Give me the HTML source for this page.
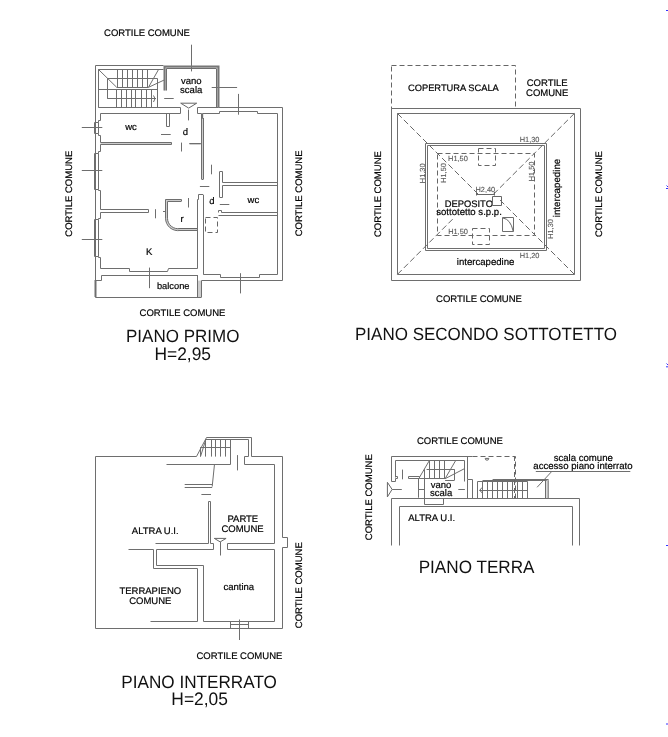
<!DOCTYPE html>
<html><head><meta charset="utf-8"><style>
html,body{margin:0;padding:0;background:#fff;width:668px;height:737px;overflow:hidden}
svg{display:block;position:absolute;left:0;top:0}
#main{filter:grayscale(1)}
line,polyline,polygon,path,rect{fill:none;stroke:#6e6e6e;stroke-width:1}
.thick{stroke:#777;stroke-width:2}
.thin{stroke:#666;stroke-width:1}
.gray{stroke:#bbb;stroke-width:2}
.w2{stroke-width:2}
.fill{fill:#cdcdcd;stroke:none}
.gray1{stroke:#bbb;stroke-width:1}
.dash{stroke:#666;stroke-dasharray:5 3}
.dashd{stroke:#666;stroke-dasharray:6 3}
.blue{stroke:#33f;stroke-width:1}
text{font-family:"Liberation Sans",sans-serif;fill:#000;stroke:#000;stroke-width:0.2;opacity:0.999;text-rendering:geometricPrecision}
.ts{fill:#555;stroke:#555;stroke-width:0.1}
.big{stroke:none;fill:#111}
</style></head><body>
<svg id="main" width="668" height="737" viewBox="0 0 668 737">
<polygon points="197.6,280.6 201.2,280.6 201.2,297.2 197.6,297.2" class="fill"/>
<polygon points="216,66 218.5,66 218.5,107.5 216,107.5" class="fill"/>
<polygon points="164.5,66 166.5,66 166.5,90.5 164.5,90.5" class="fill"/>
<polygon points="164.5,66 218.5,66 218.5,68.5 164.5,68.5" class="fill"/>
<polygon points="165.5,218.3 167.5,218.3 168.1,222.2 169.6,224.8 172,227 174.5,228.2 177,228.5 197.5,228.5 197.5,230.5 177,230.5 173.5,230 170.3,228.3 167.8,225.8 166.2,222.5" class="fill"/>
<polygon points="165.5,199.5 167.5,199.5 167.5,218.5 165.5,218.5" class="fill"/>
<polygon points="165.5,199.5 181.5,199.5 181.5,201.5 165.5,201.5" class="fill"/>
<polygon points="189.5,143 200.8,143 200.8,145 189.5,145" class="fill"/>
<polygon points="201.5,113.5 203.5,113.5 203.5,179.5 201.5,179.5" class="fill"/>
<polygon points="100.5,142.5 171.5,142.5 171.5,144.5 100.5,144.5" class="fill"/>
<text font-size="9.5" text-anchor="middle" transform="translate(147 36.3)" class="t">CORTILE COMUNE</text>
<text font-size="9.5" text-anchor="middle" transform="translate(72.1 193.7) rotate(-90)" class="t">CORTILE COMUNE</text>
<text font-size="9.5" text-anchor="middle" transform="translate(301.6 193.4) rotate(-90)" class="t">CORTILE COMUNE</text>
<text font-size="9.5" text-anchor="middle" transform="translate(182.5 315.7)" class="t">CORTILE COMUNE</text>
<text font-size="17" text-anchor="middle" transform="translate(182.7 342.1) scale(1 1.04)" class="big">PIANO PRIMO</text>
<text font-size="17.4" text-anchor="middle" transform="translate(182.7 359.7) scale(1 1.04)" class="big">H=2,95</text>
<line x1="191.5" y1="44.7" x2="191.5" y2="71.4"/>
<line x1="81.8" y1="127.5" x2="102.3" y2="127.5"/>
<line x1="81.8" y1="170.5" x2="102.3" y2="170.5"/>
<line x1="81.8" y1="239.5" x2="102.3" y2="239.5"/>
<line x1="211.7" y1="87.5" x2="237.1" y2="87.5"/>
<line x1="238.5" y1="93.9" x2="238.5" y2="114.7"/>
<line x1="149.5" y1="267.6" x2="149.5" y2="288.2"/>
<line x1="240.5" y1="273.2" x2="240.5" y2="293.4"/>
<polyline points="95.5,297.5 95.5,65.5 163.5,65.5"/>
<line x1="98.5" y1="69.4" x2="98.5" y2="107.7"/>
<line x1="98.4" y1="69.5" x2="163.5" y2="69.5"/>
<polyline points="98.5,107.5 180.5,107.5 180.5,113.5"/>
<line x1="98.4" y1="89.5" x2="157" y2="89.5"/>
<polyline points="107.5,98.5 107.5,78.5 157.5,78.5 157.5,107.5"/>
<line x1="107.2" y1="98.5" x2="156" y2="98.5"/>
<line x1="116.7" y1="87.5" x2="148.5" y2="87.5"/>
<line x1="98.4" y1="69.4" x2="116.7" y2="87.3"/>
<line x1="158.6" y1="69.4" x2="148.5" y2="87.3"/>
<line x1="148.5" y1="87.3" x2="164" y2="80.1"/>
<line x1="117.5" y1="69.4" x2="117.5" y2="87.3"/>
<line x1="122.5" y1="69.4" x2="122.5" y2="87.3"/>
<line x1="127.5" y1="69.4" x2="127.5" y2="87.3"/>
<line x1="132.5" y1="69.4" x2="132.5" y2="87.3"/>
<line x1="137.5" y1="69.4" x2="137.5" y2="87.3"/>
<line x1="142.5" y1="69.4" x2="142.5" y2="87.3"/>
<line x1="147.5" y1="69.4" x2="147.5" y2="87.3"/>
<line x1="116.5" y1="89.7" x2="116.5" y2="107.7"/>
<line x1="121.5" y1="89.7" x2="121.5" y2="107.7"/>
<line x1="126.5" y1="89.7" x2="126.5" y2="107.7"/>
<line x1="131.5" y1="89.7" x2="131.5" y2="107.7"/>
<line x1="135.5" y1="89.7" x2="135.5" y2="107.7"/>
<line x1="141.5" y1="89.7" x2="141.5" y2="107.7"/>
<line x1="146.5" y1="89.7" x2="146.5" y2="107.7"/>
<line x1="151.5" y1="89.7" x2="151.5" y2="107.7"/>
<path d="M153.5,95.5 Q156.5,98.7 153.5,102" class="thin"/>
<polyline points="164.5,90.5 164.5,66.5 218.5,66.5 218.5,107.5" class="thick"/>
<line x1="166.5" y1="68.5" x2="216" y2="68.5"/>
<line x1="166.5" y1="68.5" x2="166.5" y2="90.5"/>
<line x1="216.5" y1="68.5" x2="216.5" y2="107.5"/>
<line x1="164.2" y1="98.5" x2="173.7" y2="98.5"/>
<polygon points="180.7,103.2 196.7,103.2 188.7,108.1" class="thin"/>
<text font-size="9.5" text-anchor="middle" transform="translate(191.2 84.2)" class="t">vano</text>
<text font-size="9.5" text-anchor="middle" transform="translate(191.2 93.1)" class="t">scala</text>
<line x1="188.5" y1="109.6" x2="188.5" y2="120.4"/>
<polyline points="197.5,107.5 218.5,107.5"/>
<polyline points="197.5,107.5 197.5,113.5 201.5,113.5 201.5,118.5 202.5,118.5 202.5,113.5 219.5,113.5 219.5,111.5 257.5,111.5 257.5,113.5"/>
<line x1="201.5" y1="118" x2="201.5" y2="179"/>
<line x1="203.5" y1="118" x2="203.5" y2="179"/>
<polyline points="201.5,179.5 203.5,179.5"/>
<line x1="211.5" y1="164.7" x2="211.5" y2="174.3"/>
<line x1="199.9" y1="186.5" x2="209.3" y2="186.5"/>
<polyline points="100.5,113.5 180.5,113.5"/>
<polygon points="94.5,122.5 98.5,122.5 98.5,133.5 94.5,133.5"/>
<polygon points="94.5,153.5 98.5,153.5 98.5,189.5 94.5,189.5"/>
<polygon points="94.5,219.5 98.5,219.5 98.5,256.5 94.5,256.5"/>
<polyline points="100.5,113.5 100.5,120.5 98.5,120.5 98.5,122.5"/>
<polyline points="98.5,133.5 98.5,135.5 100.5,135.5 100.5,142.5"/>
<polyline points="100.5,144.5 100.5,151.5 98.5,151.5 98.5,153.5"/>
<polyline points="98.5,189.5 98.5,190.5 100.5,190.5 100.5,209.5"/>
<polyline points="100.5,212.5 100.5,218.5 98.5,218.5 98.5,219.5"/>
<polyline points="98.5,256.5 98.5,257.5 100.5,257.5 100.5,268.5"/>
<polyline points="166.5,113.5 166.5,126.5 169.5,126.5 169.5,113.5"/>
<line x1="161" y1="134.5" x2="170.7" y2="134.5"/>
<text font-size="9.5" text-anchor="middle" transform="translate(131 130.3)" class="t">wc</text>
<text font-size="9.5" text-anchor="middle" transform="translate(185.3 135.3)" class="t">d</text>
<polyline points="100.5,142.5 171.5,142.5 171.5,144.5 100.5,144.5"/>
<line x1="181.5" y1="142.6" x2="181.5" y2="151.5"/>
<line x1="189.3" y1="143.5" x2="200.8" y2="143.5"/>
<polyline points="100.5,209.5 148.5,209.5 148.5,212.5 100.5,212.5"/>
<line x1="155.5" y1="209.2" x2="155.5" y2="218.3"/>
<polyline points="100.5,268.5 129.5,268.5 129.5,271.5 167.5,271.5 168.5,268.5 197.5,268.5"/>
<polyline points="101.5,280.5 101.5,275.5 197.5,275.5"/>
<polyline points="94.5,280.5 101.5,280.5"/>
<line x1="95.5" y1="281" x2="95.5" y2="297" class="w2"/>
<polyline points="95.5,297.5 201.5,297.5"/>
<line x1="197.5" y1="275" x2="197.5" y2="297.2"/>
<line x1="201.5" y1="280.6" x2="201.5" y2="297.2"/>
<text font-size="9.3" text-anchor="middle" transform="translate(173.2 289.1)" class="t">balcone</text>
<text font-size="9.5" text-anchor="middle" transform="translate(149.1 255.1)" class="t">K</text>
<polyline points="181.5,199.5 165.5,199.5 165.5,218.5"/>
<path d="M165.5,218.3 A12.5,12.5 0 0 0 180,230.5 L197.5,230.5"/>
<path d="M167.5,218.3 A10.5,10.5 0 0 0 180,228.5 L197.5,228.5" class="thin"/>
<line x1="181.5" y1="199.6" x2="181.5" y2="201.5"/>
<line x1="167.5" y1="201.5" x2="181" y2="201.5"/>
<line x1="167.5" y1="201.5" x2="167.5" y2="218.3"/>
<line x1="188.5" y1="198" x2="188.5" y2="207.5"/>
<line x1="163" y1="211.5" x2="166" y2="211.5"/>
<text font-size="9.5" text-anchor="middle" transform="translate(182.2 221.8)" class="t">r</text>
<polyline points="201.5,194.5 198.5,194.5 198.5,199.5 197.5,199.5 197.5,268.5"/>
<line x1="203.5" y1="194.7" x2="203.5" y2="274.7"/>
<line x1="201" y1="194.5" x2="203" y2="194.5"/>
<polyline points="203.5,274.5 220.5,274.5 220.5,277.5 259.5,277.5 259.5,274.5 277.5,274.5 277.5,113.5 257.5,113.5"/>
<polyline points="201.5,280.5 282.5,280.5 282.5,107.5 218.5,107.5"/>
<polygon points="205.5,217.5 217.5,217.5 217.5,232.5 205.5,232.5" class="dash"/>
<polyline points="219.5,171.5 222.5,171.5 222.5,182.5 277.5,182.5"/>
<line x1="219.5" y1="171.7" x2="219.5" y2="197.2"/>
<polyline points="219.5,197.5 222.5,197.5 222.5,185.5 277.5,185.5"/>
<line x1="219.8" y1="204.5" x2="229.3" y2="204.5"/>
<polyline points="218.5,212.5 218.5,210.5 221.5,210.5 221.5,212.5 277.5,212.5"/>
<polyline points="218.5,215.5 277.5,215.5"/>
<text font-size="9.5" text-anchor="middle" transform="translate(253.4 202.5)" class="t">wc</text>
<text font-size="9.5" text-anchor="middle" transform="translate(211.9 204.3)" class="t">d</text>
<polygon points="391.5,65.5 515.5,65.5 515.5,108.5 391.5,108.5" class="dash"/>
<text font-size="9.3" text-anchor="middle" transform="translate(453.4 91)" class="t">COPERTURA SCALA</text>
<text font-size="9.5" text-anchor="middle" transform="translate(547.2 85.5)" class="t">CORTILE</text>
<text font-size="9.5" text-anchor="middle" transform="translate(547.2 96.3)" class="t">COMUNE</text>
<polygon points="391.5,108.5 580.5,108.5 580.5,280.5 391.5,280.5"/>
<polygon points="397.5,113.5 574.5,113.5 574.5,274.5 397.5,274.5"/>
<polygon points="425.5,143.5 546.5,143.5 546.5,250.5 425.5,250.5"/>
<polygon points="427.5,145.5 544.5,145.5 544.5,248.5 427.5,248.5"/>
<polygon points="437.5,153.5 534.5,153.5 534.5,235.5 437.5,235.5" class="dash"/>
<polygon points="478.5,148.5 495.5,148.5 495.5,165.5 478.5,165.5" class="dash"/>
<polygon points="472.5,228.5 489.5,228.5 489.5,244.5 472.5,244.5" class="dash"/>
<line x1="397.5" y1="113.5" x2="478" y2="194" class="dashd"/>
<line x1="574.3" y1="113.5" x2="493.7" y2="194" class="dashd"/>
<line x1="574.3" y1="274.3" x2="498" y2="198" class="dashd"/>
<line x1="397.5" y1="274.3" x2="453.7" y2="218.1" class="dashd"/>
<text font-size="7.4" text-anchor="middle" transform="translate(457.9 161.4)" class="ts">H1,50</text>
<text font-size="7.4" text-anchor="middle" transform="translate(446.2 173) rotate(-90)" class="ts">H1,50</text>
<text font-size="7.4" text-anchor="middle" transform="translate(424.9 173.3) rotate(-90)" class="ts">H1,30</text>
<text font-size="7.4" text-anchor="middle" transform="translate(534.2 171.4) rotate(-90)" class="ts">H1,50</text>
<text font-size="7.4" text-anchor="middle" transform="translate(529.6 141.5)" class="ts">H1,30</text>
<text font-size="7.4" text-anchor="middle" transform="translate(553.1 229) rotate(-90)" class="ts">H1,30</text>
<text font-size="7.4" text-anchor="middle" transform="translate(529.6 257.9)" class="ts">H1,20</text>
<text font-size="7.4" text-anchor="middle" transform="translate(458 233.7)" class="ts">H1,50</text>
<text font-size="7.4" text-anchor="middle" transform="translate(485.3 191.8)" class="ts">H2,40</text>
<path d="M476.5,192 L476.5,195.5 M494.5,192 L494.5,195.5 M476.5,194.5 L494.5,194.5" class="thin"/>
<text font-size="9.75" text-anchor="middle" transform="translate(560.2 188) rotate(-90)" class="t">intercapedine</text>
<text font-size="9.6" text-anchor="middle" transform="translate(485.6 264.5)" class="t">intercapedine</text>
<text font-size="9.4" text-anchor="middle" transform="translate(468.8 206.5)" class="t">DEPOSITO</text>
<text font-size="9.6" text-anchor="middle" transform="translate(469 215)" class="t">sottotetto s.p.p.</text>
<polygon points="492.5,196.5 501.5,196.5 501.5,205.5 492.5,205.5" class="thin"/>
<polygon points="502.5,217.5 513.5,217.5 513.5,231.5 502.5,231.5"/>
<path d="M502.9,218 Q510.5,219 513.2,231.2" class="thin"/>
<text font-size="9.5" text-anchor="middle" transform="translate(381.4 194.1) rotate(-90)" class="t">CORTILE COMUNE</text>
<text font-size="9.5" text-anchor="middle" transform="translate(602.1 194.1) rotate(-90)" class="t">CORTILE COMUNE</text>
<text font-size="9.5" text-anchor="middle" transform="translate(479 301.5)" class="t">CORTILE COMUNE</text>
<text font-size="17" text-anchor="middle" transform="translate(486 339.5) scale(1 1.04)" class="big">PIANO SECONDO SOTTOTETTO</text>
<polygon points="95.5,456.5 196.5,456.5 206.5,437.5 251.5,437.5 251.5,456.5 282.5,456.5 282.5,537.5 287.5,537.5 287.5,547.5 282.5,547.5 282.5,628.5 95.5,628.5"/>
<polyline points="166.5,464.5 230.5,464.5 230.5,439.5"/>
<polyline points="205.5,439.5 248.5,439.5 248.5,456.5 244.5,456.5 244.5,464.5 274.5,464.5 274.5,543.5 227.5,543.5 227.5,549.5 274.5,549.5 274.5,621.5 203.5,621.5 203.5,565.5 156.5,565.5 156.5,549.5 213.5,549.5 213.5,543.5 210.5,543.5 210.5,501.5 208.5,501.5 208.5,543.5 155.5,543.5"/>
<polyline points="128.5,549.5 153.5,549.5 153.5,568.5 197.5,568.5 197.5,621.5 150.5,621.5"/>
<line x1="205.9" y1="439.3" x2="200.5" y2="456.6"/>
<line x1="205.5" y1="439.3" x2="205.5" y2="456.6"/>
<line x1="211.5" y1="439.3" x2="211.5" y2="456.6"/>
<line x1="215.5" y1="439.3" x2="215.5" y2="456.6"/>
<line x1="220.5" y1="439.3" x2="220.5" y2="456.6"/>
<line x1="225.5" y1="439.3" x2="225.5" y2="456.6"/>
<line x1="200.2" y1="447.5" x2="230.4" y2="447.5"/>
<line x1="200.5" y1="447.6" x2="200.5" y2="456.5"/>
<line x1="237.5" y1="455.1" x2="237.5" y2="470.4"/>
<line x1="214.5" y1="464.1" x2="212.2" y2="486.6"/>
<line x1="184.7" y1="484.5" x2="212.2" y2="484.5"/>
<line x1="184.7" y1="487.5" x2="212.2" y2="487.5"/>
<line x1="201.4" y1="494.5" x2="211" y2="494.5"/>
<polygon points="214.3,538.4 226.1,538.4 220.2,541.9" class="thin"/>
<line x1="220.5" y1="541.9" x2="220.5" y2="555.5"/>
<polygon points="230.5,621.5 248.5,621.5 248.5,628.5 230.5,628.5"/>
<line x1="230.3" y1="624.5" x2="248.5" y2="624.5"/>
<line x1="239.5" y1="619.5" x2="239.5" y2="640"/>
<text font-size="9.5" text-anchor="middle" transform="translate(155.25 533.8)" class="t">ALTRA U.I.</text>
<text font-size="9.5" text-anchor="middle" transform="translate(242.8 522)" class="t">PARTE</text>
<text font-size="9.5" text-anchor="middle" transform="translate(242.5 531.9)" class="t">COMUNE</text>
<text font-size="9.5" text-anchor="middle" transform="translate(238.8 589.5)" class="t">cantina</text>
<text font-size="9.5" text-anchor="middle" transform="translate(150.3 593.8)" class="t">TERRAPIENO</text>
<text font-size="9.5" text-anchor="middle" transform="translate(150.3 603.5)" class="t">COMUNE</text>
<text font-size="9.5" text-anchor="middle" transform="translate(301.6 585.2) rotate(-90)" class="t">CORTILE COMUNE</text>
<text font-size="9.5" text-anchor="middle" transform="translate(239.4 659.3)" class="t">CORTILE COMUNE</text>
<text font-size="17.15" text-anchor="middle" transform="translate(199.1 687.8) scale(1 1.04)" class="big">PIANO INTERRATO</text>
<text font-size="17.4" text-anchor="middle" transform="translate(199.6 704.8) scale(1 1.04)" class="big">H=2,05</text>
<text font-size="9.5" text-anchor="middle" transform="translate(459.9 443.8)" class="t">CORTILE COMUNE</text>
<text font-size="9.5" text-anchor="middle" transform="translate(372 497.2) rotate(-90)" class="t">CORTILE COMUNE</text>
<text font-size="17.15" text-anchor="middle" transform="translate(476.6 572.8) scale(1 1.04)" class="big">PIANO TERRA</text>
<polyline points="391.5,481.5 391.5,456.5 472.5,456.5"/>
<polyline points="395.5,477.5 395.5,460.5 464.5,460.5 464.5,481.5"/>
<polyline points="395.5,476.5 397.5,476.5 397.5,478.5 395.5,478.5"/>
<polyline points="391.5,481.5 395.5,481.5 395.5,478.5"/>
<polyline points="472.5,456.5 515.5,456.5 515.5,498.5" class="dash"/>
<path d="M485.2,458.4 A1.8,1.8 0 1 0 488.8,458.4 Z" class="thin"/>
<line x1="467.5" y1="456.3" x2="467.5" y2="479.2"/>
<polygon points="387.4,482.3 392.1,489.4 387.4,496.9" class="thin"/>
<line x1="392.1" y1="489.5" x2="401.8" y2="489.5"/>
<line x1="402.5" y1="469.6" x2="402.5" y2="479.3"/>
<polygon points="408.5,476.5 419.5,476.5 419.5,478.5 408.5,478.5"/>
<line x1="429.5" y1="460.3" x2="419.4" y2="477.5"/>
<line x1="429.5" y1="460.3" x2="429.5" y2="478.7"/>
<line x1="434.5" y1="460.3" x2="434.5" y2="478.7"/>
<line x1="439.5" y1="460.3" x2="439.5" y2="478.7"/>
<line x1="444.5" y1="460.3" x2="444.5" y2="478.7"/>
<line x1="426.6" y1="469.5" x2="454.6" y2="469.5"/>
<line x1="454.5" y1="469.4" x2="454.5" y2="480"/>
<line x1="455.8" y1="460.3" x2="445.1" y2="478.7"/>
<line x1="445.1" y1="478.7" x2="464" y2="468.9"/>
<line x1="418.5" y1="478.6" x2="418.5" y2="497.7"/>
<line x1="424.5" y1="469.2" x2="424.5" y2="498.5"/>
<line x1="418.7" y1="489.5" x2="424.5" y2="489.5"/>
<line x1="419.4" y1="478.5" x2="445.1" y2="478.5"/>
<line x1="445.1" y1="480.5" x2="454.6" y2="480.5"/>
<line x1="458.3" y1="489.5" x2="464.9" y2="489.5"/>
<text font-size="9.5" text-anchor="middle" transform="translate(441.1 487.8)" class="t">vano</text>
<text font-size="9.5" text-anchor="middle" transform="translate(441.1 496.4)" class="t">scala</text>
<polyline points="424.5,498.5 424.5,504.5 443.5,504.5 443.5,498.5"/>
<polygon points="467.5,479.5 472.5,479.5 472.5,498.5 467.5,498.5"/>
<polyline points="391.5,498.5 391.5,545.5"/>
<polyline points="391.5,498.5 579.5,498.5 579.5,545.5"/>
<polyline points="399.5,545.5 399.5,506.5 572.5,506.5 572.5,545.5"/>
<text font-size="9.5" text-anchor="middle" transform="translate(431.65 520.6)" class="t">ALTRA U.I.</text>
<polygon points="477.5,481.5 527.5,481.5 527.5,498.5 477.5,498.5"/>
<polyline points="482.5,480.5 548.5,480.5 548.5,498.5"/>
<line x1="492.6" y1="479.5" x2="548.6" y2="479.5"/>
<line x1="545.5" y1="479.4" x2="545.5" y2="498.3"/>
<line x1="547.5" y1="480" x2="547.5" y2="498" class="gray"/>
<line x1="482.5" y1="481.9" x2="482.5" y2="498.3"/>
<line x1="487.5" y1="481.9" x2="487.5" y2="498.3"/>
<line x1="492.5" y1="481.9" x2="492.5" y2="498.3"/>
<line x1="497.5" y1="481.9" x2="497.5" y2="498.3"/>
<line x1="502.5" y1="481.9" x2="502.5" y2="498.3"/>
<line x1="507.5" y1="481.9" x2="507.5" y2="498.3"/>
<line x1="512.5" y1="481.9" x2="512.5" y2="498.3"/>
<line x1="517.5" y1="481.9" x2="517.5" y2="498.3"/>
<line x1="522.5" y1="481.9" x2="522.5" y2="498.3"/>
<line x1="479.5" y1="490.5" x2="527.7" y2="490.5"/>
<path d="M482,487.5 L479.8,490.2 L482,492.9" class="thin"/>
<line x1="514.5" y1="456" x2="514.5" y2="498.3" class="dash"/>
<line x1="537.1" y1="487.3" x2="551.9" y2="471.3"/>
<line x1="535.8" y1="471.5" x2="630.3" y2="471.5"/>
<text font-size="9.6" text-anchor="middle" transform="translate(583.25 461.2)" class="t">scala comune</text>
<text font-size="9.6" text-anchor="middle" transform="translate(582.9 469.3)" class="t">accesso piano interrato</text>
</svg>
<svg width="668" height="737" viewBox="0 0 668 737">
<line x1="666" y1="10.5" x2="668" y2="10.5" class="blue"/>
<path d="M666.5,185.5 L668,187 M666,188.5 L668,188.5" class="blue"/>
<path d="M666.5,363.5 L668,365 M666,366.8 L668,366.8" class="blue"/>
<line x1="666" y1="545.5" x2="668" y2="545.5" class="blue"/>
<line x1="666" y1="724" x2="668" y2="724" class="blue"/>
</svg>
</body></html>
